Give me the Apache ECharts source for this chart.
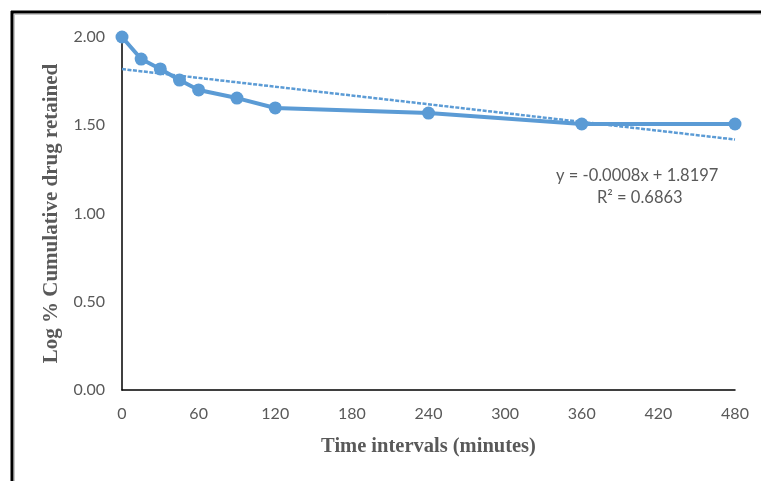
<!DOCTYPE html>
<html>
<head>
<meta charset="utf-8">
<script src="https://cdn.jsdelivr.net/npm/echarts@6/dist/echarts.min.js"></script>
<style>
html,body{margin:0;padding:0;background:#fff;}
#c{width:761px;height:481px;}
</style>
</head>
<body>
<div id="c"></div>
<script>
const timeMinutes = [0, 15, 30, 45, 60, 90, 120, 240, 360, 480];
const logRetained = [2.00, 1.875, 1.819, 1.756, 1.70, 1.654, 1.598, 1.569, 1.507, 1.507];
const xTicks = [0, 60, 120, 180, 240, 300, 360, 420, 480];
const yTicks = [0, 0.5, 1.0, 1.5, 2.0];
const equationLines = ['y = -0.0008x + 1.8197', 'R² = 0.6863'];

// least-squares trendline from the data (as Excel does)
const n = timeMinutes.length;
const mx = timeMinutes.reduce((a, b) => a + b, 0) / n;
const my = logRetained.reduce((a, b) => a + b, 0) / n;
let sxy = 0, sxx = 0;
for (let i = 0; i < n; i++) {
  sxy += (timeMinutes[i] - mx) * (logRetained[i] - my);
  sxx += (timeMinutes[i] - mx) ** 2;
}
const slope = sxy / sxx;
const intercept = my - slope * mx;
const xMin = xTicks[0], xMax = xTicks[xTicks.length - 1];
const trend = [[xMin, intercept + slope * xMin], [xMax, intercept + slope * xMax]];

const chart = echarts.init(document.getElementById('c'), null, {renderer: 'canvas'});
const labelColor = '#595959';
chart.setOption({
  animation: false,
  backgroundColor: '#fff',
  grid: {left: 122, right: 26, top: 37, bottom: 91},
  xAxis: {
    type: 'value', min: xMin, max: xMax, interval: 60,
    name: 'Time intervals (minutes)', nameLocation: 'middle', nameGap: 46,
    nameTextStyle: {fontFamily: 'Liberation Serif', fontWeight: 'bold', fontSize: 20.5, color: labelColor},
    axisLine: {show: true, lineStyle: {color: '#000', width: 1.5}},
    axisTick: {show: false},
    splitLine: {show: false},
    axisLabel: {color: labelColor, fontFamily: 'Lato', fontSize: 16, margin: 16}
  },
  yAxis: {
    type: 'value', min: yTicks[0], max: yTicks[yTicks.length - 1], interval: 0.5,
    name: 'Log % Cumulative drug retained', nameLocation: 'middle', nameGap: 53,
    nameTextStyle: {fontFamily: 'Liberation Serif', fontWeight: 'bold', fontSize: 21, color: labelColor},
    axisLine: {show: true, lineStyle: {color: '#000', width: 1.5}},
    axisTick: {show: false},
    splitLine: {show: false},
    axisLabel: {color: labelColor, fontFamily: 'Lato', fontSize: 16, margin: 17,
      formatter: v => v.toFixed(2)}
  },
  series: [
    {
      type: 'line',
      data: trend,
      symbol: 'none',
      lineStyle: {color: '#5B9BD5', width: 2.5, type: [4, 1.5]},
      z: 3
    },
    {
      type: 'line',
      data: timeMinutes.map((t, i) => [t, logRetained[i]]),
      symbol: 'circle', symbolSize: 13,
      itemStyle: {color: '#5B9BD5'},
      lineStyle: {color: '#5B9BD5', width: 4},
      z: 4
    }
  ],
  graphic: [
    {type: 'line', shape: {x1: 11, y1: 12, x2: 761, y2: 12}, style: {stroke: '#000', lineWidth: 3}},
    {type: 'line', shape: {x1: 12, y1: 11, x2: 12, y2: 481}, style: {stroke: '#000', lineWidth: 3}},
    {type: 'line', shape: {x1: 14, y1: 14.5, x2: 761, y2: 14.5}, style: {stroke: '#c8c8c8', lineWidth: 1}},
    {type: 'line', shape: {x1: 14.5, y1: 14, x2: 14.5, y2: 481}, style: {stroke: '#c8c8c8', lineWidth: 1}},
    {type: 'text', left: 556, top: 167, style: {text: equationLines[0], fill: labelColor, font: '16.5px Lato'}},
    {type: 'text', left: 597, top: 189, style: {text: equationLines[1], fill: labelColor, font: '16.5px Lato'}}
  ]
});
</script>
</body>
</html>
